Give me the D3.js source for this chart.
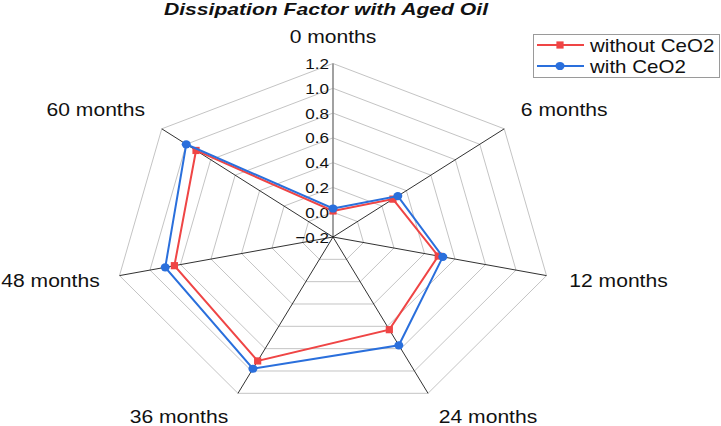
<!DOCTYPE html>
<html>
<head>
  <meta charset="utf-8">
  <title>Dissipation Factor with Aged Oil</title>
  <style>
    body { margin: 0; background: #fff; }
    text { font-family: "Liberation Sans", Arial, sans-serif; fill: #111; }
  </style>
</head>
<body>
<svg width="721" height="426"></svg>
<script src="https://d3js.org/d3.v7.min.js"></script>
<script>
// data
const categories = ["0 months", "6 months", "12 months", "24 months", "36 months", "48 months", "60 months"];
const withoutCeO2 = [0.01, 0.29, 0.49, 0.63, 0.91, 0.84, 0.92];
const withCeO2 = [0.03, 0.33, 0.52, 0.77, 0.98, 0.90, 1.00];
const ticks = [-0.2, 0.0, 0.2, 0.4, 0.6, 0.8, 1.0, 1.2];
const seriesNames = ["without CeO2", "with CeO2"];

// layout
const cx = 333, cy = 237, rx = 219, ry = 173.5;
// label offsets from the outer vertex (center x, baseline)
const labelOff = [[0, -20.5], [60, -13], [72, 11], [60, 30], [-59, 30], [-69, 11], [-66, -13]];
const red = "#ef4545", blue = "#2a6fdc";

const svg = d3.select("svg");
const r = d3.scaleLinear().domain([-0.2, 1.2]).range([0, 1]);
const angle = d3.scaleLinear().domain([0, categories.length]).range([0, 2 * Math.PI]);

function pt(i, v) {
  const a = angle(i);
  return [cx + rx * r(v) * Math.sin(a), cy - ry * r(v) * Math.cos(a)];
}

// stretched text helper
function label(x, y, str, size, sx, anchor, extra) {
  const g = svg.append("g").attr("transform", `translate(${x},${y}) scale(${sx},1)`);
  const t = g.append("text").attr("font-size", size).attr("text-anchor", anchor).text(str);
  if (extra) extra(t);
  return t;
}

// grid rings
const ring = d3.line();
ticks.slice(1).forEach(v => {
  const pts = categories.map((c, i) => pt(i, v));
  svg.append("path")
    .attr("d", ring(pts) + "Z")
    .attr("fill", "none")
    .attr("stroke", "#c4c4c4")
    .attr("stroke-width", 1);
});

// spokes
categories.forEach((c, i) => {
  const [x, y] = pt(i, 1.2);
  svg.append("line")
    .attr("x1", cx).attr("y1", cy).attr("x2", x).attr("y2", y)
    .attr("stroke", i === 0 ? "#8a8a8a" : "#1a1a1a")
    .attr("stroke-width", i === 0 ? 1.6 : 0.9);
});

// tick labels
ticks.forEach(v => {
  const [, y] = pt(0, v);
  label(329, y + 5.5, d3.format(".1f")(v), 15.5, 1.1, "end");
});

// axis labels
categories.forEach((c, i) => {
  const [x, y] = pt(i, 1.2);
  label(x + labelOff[i][0], y + labelOff[i][1], c, 18.5, 1.14, "middle");
});

// series
const line = d3.line();
function drawSeries(vals, color, shape) {
  const pts = vals.map((v, i) => pt(i, v));
  svg.append("path")
    .attr("d", line(pts) + "Z")
    .attr("fill", "none")
    .attr("stroke", color)
    .attr("stroke-width", 2);
  pts.forEach(p => marker(p[0], p[1], color, shape));
}
function marker(x, y, color, shape) {
  if (shape === "square") {
    svg.append("rect").attr("x", x - 3.6).attr("y", y - 3.6)
      .attr("width", 7.2).attr("height", 7.2).attr("fill", color);
  } else {
    svg.append("ellipse").attr("cx", x).attr("cy", y)
      .attr("rx", 4.5).attr("ry", 4.1).attr("fill", color);
  }
}
drawSeries(withoutCeO2, red, "square");
drawSeries(withCeO2, blue, "circle");

// title
label(326, 15, "Dissipation Factor with Aged Oil", 16.5, 1.28, "middle",
  t => t.attr("font-weight", "bold").attr("font-style", "italic"));

// legend
svg.append("rect")
  .attr("x", 533.5).attr("y", 34.5).attr("width", 186).attr("height", 43)
  .attr("fill", "#fff").attr("stroke", "#9a9a9a").attr("stroke-width", 1);
[[red, "square"], [blue, "circle"]].forEach((s, i) => {
  const y = 45 + i * 21;
  svg.append("line").attr("x1", 537).attr("x2", 584).attr("y1", y).attr("y2", y)
    .attr("stroke", s[0]).attr("stroke-width", 2);
  marker(560, y, s[0], s[1]);
  label(590, y + 6.5, seriesNames[i], 17.7, 1.16, "start");
});
</script>
</body>
</html>
